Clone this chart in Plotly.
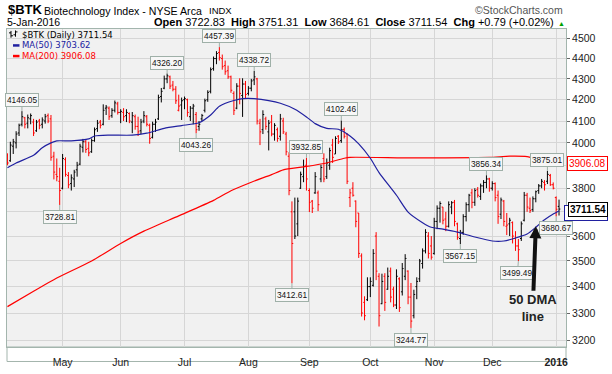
import math
import pandas as pd
import plotly.graph_objects as go

# ---------------- data ----------------
START, END = "2015-04-06", "2016-01-05"
HOLIDAYS = ["2015-05-25", "2015-07-03", "2015-09-07", "2015-11-26", "2015-12-25", "2016-01-01"]

opens = [
    3945, 3920, 3985, 4000, 4045, 4085, 4115, 4090, 4110, 4095, 4055, 4100, 4085, 4100, 4125, 4110, 3940, 3860, 3830,
    3800, 3925, 3855, 3820, 3840, 3880, 3905, 3980, 4005, 3975, 3960, 4010, 4065, 4095, 4085, 4160, 4160, 4125, 4150, 4180,
    4140, 4140, 4125, 4135, 4095, 4120, 4075, 4055, 4100, 4120, 4080, 4025, 4085, 4110, 4215, 4255, 4300, 4310, 4270, 4250, 4150, 4175,
    4200, 4200, 4120, 4160, 4130, 4075, 4110, 4150, 4200, 4240, 4350, 4400, 4430, 4400, 4365, 4340, 4310, 4230, 4160, 4265, 4220, 4275,
    4230, 4255, 4295, 4300, 4090, 4060, 4110, 4050, 4095, 4040, 4060, 4030, 4100, 4040, 3940, 3700, 3700, 3650, 3800, 3850, 3900,
    3790, 3745, 3780, 3780, 3840, 3930, 3850, 3900, 3990, 3950, 4030, 4010, 4060, 4040, 3760, 3800, 3745, 3695, 3520, 3340, 3350,
    3400, 3405, 3600, 3440, 3335, 3440, 3390, 3460, 3390, 3330, 3430, 3380, 3440, 3460, 3360, 3290, 3400, 3430, 3490, 3540, 3600, 3560,
    3530, 3660, 3715, 3720, 3670, 3640, 3720, 3740, 3650, 3590, 3615, 3680, 3730, 3780, 3740, 3795, 3765, 3810, 3825, 3840,
    3800, 3820, 3770, 3690, 3745, 3640, 3650, 3655, 3590, 3560, 3590, 3665, 3770, 3715, 3710, 3755, 3790, 3810, 3825, 3830, 3855, 3815,
    3760, 3722.83,
]
highs = [
    3953, 4005, 4018, 4053, 4088, 4146.05, 4119, 4130, 4135, 4110, 4105, 4110, 4117, 4133, 4135, 4128, 3960, 3930, 3889,
    3950, 3935, 3870, 3860, 3880, 3915, 3996, 4018, 4015, 4005, 4020, 4070, 4105, 4105, 4178, 4175, 4168, 4160, 4196, 4190,
    4155, 4160, 4155, 4140, 4142, 4130, 4120, 4110, 4146, 4128, 4088, 4097, 4110, 4224, 4256, 4316, 4326.20, 4316, 4290, 4265, 4224, 4210,
    4215, 4205, 4170, 4180, 4142, 4100, 4133, 4205, 4245, 4356, 4410, 4437, 4457.39, 4420, 4390, 4365, 4316, 4240, 4279, 4303, 4303, 4290,
    4265, 4300, 4338.72, 4305, 4110, 4150, 4120, 4105, 4128, 4090, 4070, 4133, 4115, 4050, 3958, 3744, 3760, 3760, 3872, 3925, 3932.85,
    3800, 3750, 3870, 3790, 3902, 3953, 3930, 3978, 4018, 4030, 4035, 4102.46, 4070, 4044, 3797, 3826, 3748, 3695, 3530, 3363, 3436,
    3436, 3547, 3616, 3452, 3450, 3452, 3474, 3474, 3400, 3467, 3436, 3492, 3527, 3463, 3414, 3388, 3436, 3508, 3550, 3628, 3616, 3600,
    3675, 3727, 3744, 3720, 3700, 3744, 3745, 3750, 3655, 3625, 3690, 3740, 3776, 3797, 3800, 3805, 3820, 3835, 3856.34, 3845,
    3830, 3825, 3790, 3760, 3750, 3695, 3675, 3660, 3620, 3588, 3660, 3784, 3780, 3760, 3765, 3790, 3818, 3840, 3835, 3875.01, 3862, 3825,
    3765, 3751.31,
]
lows = [
    3900, 3915, 3950, 3975, 4031, 4075, 4066, 4066, 4085, 4031, 4050, 4062, 4066, 4088, 4090, 3920, 3838, 3830, 3728.81,
    3795, 3850, 3800, 3790, 3805, 3850, 3900, 3957, 3955, 3940, 3955, 4005, 4050, 4066, 4080, 4128, 4105, 4115, 4140, 4130,
    4090, 4100, 4095, 4090, 4044, 4060, 4031, 4040, 4090, 4075, 3996, 4020, 4050, 4105, 4187, 4250, 4279, 4251, 4240, 4180, 4145, 4105,
    4155, 4120, 4100, 4085, 4043.26, 4055, 4100, 4140, 4190, 4230, 4340, 4372, 4390, 4345, 4320, 4300, 4233, 4128, 4155, 4178, 4119, 4205,
    4220, 4240, 4270, 4084, 3990, 4040, 4060, 3966, 4030, 4010, 4005, 4010, 4040, 3944, 3770, 3412.61, 3588, 3600, 3797, 3826, 3790,
    3699, 3695, 3776, 3703, 3826, 3826, 3840, 3880, 3910, 3950, 3995, 4000, 4020, 3818, 3720, 3764, 3636, 3512, 3287, 3273, 3345,
    3360, 3400, 3425, 3250, 3333, 3308, 3388, 3340, 3322, 3315, 3304, 3366, 3425, 3333, 3244.77, 3280, 3352, 3418, 3470, 3530, 3510, 3505,
    3525, 3628, 3655, 3648, 3620, 3635, 3690, 3640, 3585, 3567.15, 3605, 3660, 3700, 3715, 3725, 3760, 3750, 3780, 3800, 3785,
    3790, 3744, 3650, 3670, 3640, 3604, 3600, 3570, 3540, 3499.49, 3580, 3660, 3700, 3695, 3700, 3740, 3776, 3800, 3790, 3818, 3810, 3795,
    3680.67, 3684.61,
]
closes = [
    3910, 3990, 4005, 4040, 4080, 4120, 4085, 4115, 4125, 4045, 4095, 4080, 4105, 4120, 4100, 3935, 3870, 3850, 3790,
    3930, 3860, 3815, 3845, 3870, 3900, 3985, 4005, 3970, 3955, 4010, 4060, 4090, 4080, 4150, 4165, 4120, 4150, 4185, 4140,
    4145, 4120, 4140, 4100, 4125, 4075, 4050, 4095, 4125, 4085, 4020, 4085, 4095, 4210, 4240, 4300, 4315, 4265, 4250, 4195, 4170, 4195,
    4205, 4140, 4160, 4170, 4060, 4085, 4125, 4195, 4235, 4345, 4400, 4425, 4405, 4360, 4335, 4310, 4245, 4150, 4265, 4230, 4275, 4225,
    4255, 4290, 4310, 4100, 4050, 4130, 4075, 4090, 4040, 4080, 4020, 4110, 4050, 3960, 3790, 3570, 3600, 3745, 3860, 3895, 3840,
    3740, 3715, 3850, 3730, 3890, 3840, 3910, 3965, 3935, 4020, 4005, 4060, 4030, 3830, 3780, 3770, 3660, 3530, 3300, 3290, 3400,
    3420, 3530, 3460, 3290, 3420, 3340, 3440, 3360, 3330, 3440, 3320, 3470, 3510, 3360, 3270, 3370, 3420, 3500, 3540, 3615, 3530, 3515,
    3660, 3715, 3735, 3665, 3640, 3730, 3738, 3660, 3595, 3615, 3680, 3730, 3770, 3740, 3790, 3770, 3810, 3825, 3840, 3800,
    3820, 3760, 3680, 3750, 3660, 3645, 3665, 3600, 3560, 3545, 3650, 3770, 3720, 3705, 3755, 3785, 3810, 3830, 3815, 3860, 3815, 3800,
    3710.75, 3711.54,
]

ma50_dates = ["2015-04-06", "2015-04-09", "2015-04-17", "2015-04-22", "2015-04-27", "2015-04-29", "2015-05-06",
              "2015-05-14", "2015-05-18", "2015-05-26", "2015-06-05", "2015-06-12", "2015-06-22", "2015-06-30",
              "2015-07-09", "2015-07-15", "2015-07-20", "2015-07-27", "2015-07-30", "2015-08-05", "2015-08-12",
              "2015-08-18", "2015-08-25", "2015-08-31", "2015-09-03", "2015-09-10", "2015-09-16", "2015-09-22",
              "2015-09-25", "2015-10-01", "2015-10-06", "2015-10-14", "2015-10-20", "2015-10-27", "2015-10-30",
              "2015-11-05", "2015-11-12", "2015-11-20", "2015-12-01", "2015-12-07", "2015-12-11", "2015-12-17",
              "2015-12-22", "2015-12-28", "2015-12-31", "2016-01-05"]
ma50_vals = [3889, 3910, 3944, 3978, 4000, 4009, 4009, 4018, 4031, 4035, 4035, 4044, 4066, 4079, 4092, 4128,
             4169, 4196, 4205, 4205, 4196, 4183, 4155, 4119, 4088, 4066, 4062, 4031, 3995, 3931, 3868, 3770,
             3699, 3655, 3636, 3628, 3616, 3596, 3580, 3580, 3592, 3608, 3636, 3667, 3691, 3703.62]

ma200_dates = ["2015-04-06", "2015-04-17", "2015-04-29", "2015-05-15", "2015-06-01", "2015-06-11", "2015-06-29",
               "2015-07-16", "2015-07-24", "2015-08-04", "2015-08-13", "2015-08-19", "2015-08-28", "2015-09-10",
               "2015-09-18", "2015-09-22", "2015-10-16", "2015-10-30", "2015-11-30", "2015-12-09", "2015-12-17",
               "2015-12-23", "2015-12-29", "2016-01-05"]
ma200_vals = [3324, 3382, 3433, 3500, 3570, 3620, 3683, 3748, 3789, 3826, 3859, 3880, 3893, 3910, 3931, 3935,
              3933, 3933, 3935, 3940, 3938, 3925, 3915, 3906.08]

label_dates = ["2015-04-13", "2015-04-30", "2015-06-23", "2015-07-08", "2015-07-20", "2015-08-05", "2015-08-24",
               "2015-08-31", "2015-09-17", "2015-10-21", "2015-11-13", "2015-11-27", "2015-12-14", "2015-12-29",
               "2016-01-04"]
label_vals = [4146.05, 3728.81, 4326.20, 4043.26, 4457.39, 4338.72, 3412.61, 3932.85, 4102.46, 3244.77, 3567.15,
              3856.34, 3499.49, 3875.01, 3680.67]

y_ticks = [3200, 3300, 3400, 3500, 3600, 3700, 3800, 3900, 4000, 4100, 4200, 4300, 4400, 4500]
y_hidden = [3700, 3900]  # covered by the value tags in the reference
month_names = ["Jan", "Feb", "Mar", "Apr", "May", "Jun", "Jul", "Aug", "Sep", "Oct", "Nov", "Dec"]

last_open, last_high, last_low, last_close = 3722.83, 3751.31, 3684.61, 3711.54
chg, chg_pct = 0.79, 0.02
ma50_last, ma200_last = 3703.62, 3906.08

# ---------------- styling ----------------
FONT = "Liberation Sans, Arial, sans-serif"
LEG = "DejaVu Sans, Verdana, sans-serif"
RED = "#ff0000"
BLUE = "#2020a0"
FRAME = "#a3b5ad"
GRID = "#d6d6d6"
BOX_BG = "#f7f7f7"
BOX_BORDER = "#9fb0a8"

W, H = 612, 374
ML, MR, MT, MB = 6, 46, 29, 16
PW, PH = W - ML - MR, H - MT - MB


def P(px, py):
    """pixel -> paper coordinates (for header texts / decorations)"""
    return (px - ML) / PW, (H - MB - py) / PH


dates = pd.bdate_range(START, END, freq="C", holidays=HOLIDAYS)
assert len(dates) == len(closes) == len(opens) == len(highs) == len(lows)
n = len(dates)
pos = {d.strftime("%Y-%m-%d"): i for i, d in enumerate(dates)}

up = [i for i in range(n) if i > 0 and closes[i] >= closes[i - 1]]
dn = [i for i in range(n) if not (i > 0 and closes[i] >= closes[i - 1])]

fig = go.Figure()


def add_ohlc(sel, color):
    fig.add_trace(go.Ohlc(
        x=sel, open=[opens[i] for i in sel], high=[highs[i] for i in sel],
        low=[lows[i] for i in sel], close=[closes[i] for i in sel],
        increasing=dict(line=dict(color=color, width=1)),
        decreasing=dict(line=dict(color=color, width=1)),
        tickwidth=0.45, hoverinfo="skip", showlegend=False))


add_ohlc(dn, RED)
add_ohlc(up, "#000000")

fig.add_trace(go.Scatter(x=[pos[d] for d in ma200_dates], y=ma200_vals, mode="lines",
                         line=dict(color=RED, width=1.2, shape="spline", smoothing=0.6),
                         hoverinfo="skip", showlegend=False))
fig.add_trace(go.Scatter(x=[pos[d] for d in ma50_dates], y=ma50_vals, mode="lines",
                         line=dict(color=BLUE, width=1.2, shape="spline", smoothing=0.6),
                         hoverinfo="skip", showlegend=False))

# month ticks
tickvals, ticktext = [], []
for i in range(1, n):
    if dates[i].month != dates[i - 1].month:
        tickvals.append(i)
        ticktext.append(f"<b>{dates[i].year}</b>" if dates[i].month == 1 else month_names[dates[i].month - 1])

ylo, yhi = 3.50183, 3.65796
ann = []

# price labels
for d, v in zip(label_dates, label_vals):
    i = pos[d]
    is_high = abs(v - highs[i]) < 1e-6
    ann.append(dict(x=i, y=math.log10(v), xref="x", yref="y", text=f"{v:.2f}",
                    showarrow=True, ax=-1 if v == 3499.49 else 0, ay=-11 if is_high else 12,
                    arrowhead=0, arrowwidth=1,
                    arrowcolor=BOX_BORDER, bgcolor=BOX_BG, bordercolor=BOX_BORDER, borderwidth=1,
                    borderpad=1, font=dict(family=FONT, size=8.3, color="#111")))

# right-side value tags
TAG_X, _ = P(608, 0)
ann.append(dict(xref="paper", x=TAG_X, xanchor="right", yref="y", y=math.log10(ma200_last),
                text=f"{ma200_last:.2f}", showarrow=False, bgcolor="white", bordercolor=RED, borderwidth=1,
                borderpad=1, font=dict(family=FONT, size=10, color=RED)))
ann.append(dict(xref="paper", x=TAG_X, xanchor="right", yref="y", y=math.log10(ma50_last), yshift=-2,
                text=" ", width=40, height=12, showarrow=False, bgcolor="white", bordercolor=BLUE, borderwidth=1,
                borderpad=1, font=dict(family=FONT, size=10, color=BLUE)))
ann.append(dict(xref="paper", x=TAG_X, xanchor="right", yref="y", y=math.log10(last_close),
                text=f"<b>{last_close:.2f}</b>", showarrow=False, bgcolor="white", bordercolor="#000", borderwidth=1,
                borderpad=1, font=dict(family=FONT, size=10, color="#000")))

# "50 DMA line" callout pointing to the MA(50) line
ann.append(dict(x=pos["2015-12-22"], y=math.log10(3640), xref="x", yref="y", text="<b>50 DMA<br>line</b>",
                showarrow=True, ax=-3, ay=82, arrowhead=2, arrowwidth=4, arrowsize=0.6, arrowcolor="#111",
                standoff=0, font=dict(family=FONT, size=13, color="#222")))

# header texts
x, y = P(5, 9)
ann.append(dict(xref="paper", yref="paper", x=x, y=y, xanchor="left", yanchor="middle", showarrow=False,
                text="<b>$BTK</b>", font=dict(family=FONT, size=13, color="#000")))
x, y = P(41, 10)
ann.append(dict(xref="paper", yref="paper", x=x, y=y, xanchor="left", yanchor="middle", showarrow=False,
                text="Biotechnology Index - NYSE Arca", font=dict(family=FONT, size=10.6, color="#000")))
x, y = P(206, 10)
ann.append(dict(xref="paper", yref="paper", x=x, y=y, xanchor="left", yanchor="middle", showarrow=False,
                text="INDX", font=dict(family=FONT, size=9.5, color="#000")))
x, y = P(565, 9)
ann.append(dict(xref="paper", yref="paper", x=x, y=y, xanchor="right", yanchor="middle", showarrow=False,
                text="\u00a9StockCharts.com", font=dict(family=FONT, size=10.5, color="#555")))
x, y = P(4, 22)
ann.append(dict(xref="paper", yref="paper", x=x, y=y, xanchor="left", yanchor="middle", showarrow=False,
                text=dates[-1].strftime("%-d-%b-%Y"), font=dict(family=FONT, size=10.5, color="#000")))
x, y = P(556, 22)
ann.append(dict(xref="paper", yref="paper", x=x, y=y, xanchor="right", yanchor="middle", showarrow=False,
                text=(f"<b>Open</b> {last_open:.2f}  <b>High</b> {last_high:.2f}  <b>Low</b> {last_low:.2f}  "
                      f"<b>Close</b> {last_close:.2f}  <b>Chg</b> +{chg:.2f} (+{chg_pct:.2f}%)"),
                font=dict(family=FONT, size=11, color="#000")))
x, y = P(561, 23)
ann.append(dict(xref="paper", yref="paper", x=x, y=y, xanchor="center", yanchor="middle", showarrow=False,
                text="\u25b2", font=dict(family=FONT, size=7, color="#00a000")))

# legend texts inside the plot
for txt, py, col in [(f"$BTK (Daily) {last_close:.2f}", 35, "#000"),
                     (f"MA(50) {ma50_last:.2f}", 46, BLUE),
                     (f"MA(200) {ma200_last:.2f}", 57, RED)]:
    x, y = P(19, py)
    ann.append(dict(xref="paper", yref="paper", x=x, y=y, xanchor="left", yanchor="middle", showarrow=False,
                    text=txt, font=dict(family=LEG, size=8.5, color=col)))

shapes = []
for py, col in [(46, BLUE), (57, RED)]:
    x0, y0 = P(12, py)
    x1, _ = P(18.5, py)
    shapes.append(dict(type="line", xref="paper", yref="paper", x0=x0, x1=x1, y0=y0, y1=y0,
                       line=dict(color=col, width=2.5)))
# small ohlc glyph in legend
for bx, top, bot, lt, rt in [(10, 31, 38, 33, 36), (14.5, 30.5, 37, 35, 32)]:
    a, b = P(bx, top)
    _, c = P(bx, bot)
    shapes.append(dict(type="line", xref="paper", yref="paper", x0=a, x1=a, y0=b, y1=c, line=dict(color="#000", width=1)))
    l0, ly = P(bx - 2, lt)
    shapes.append(dict(type="line", xref="paper", yref="paper", x0=l0, x1=a, y0=ly, y1=ly, line=dict(color="#000", width=1)))
    r1, ry = P(bx + 2, rt)
    shapes.append(dict(type="line", xref="paper", yref="paper", x0=a, x1=r1, y0=ry, y1=ry, line=dict(color="#000", width=1)))
# frame around the date axis strip
x0, y0 = P(6, 358)
x1, y1 = P(566, 373)
shapes.append(dict(type="rect", xref="paper", yref="paper", x0=x0, x1=x1, y0=y0, y1=y1,
                   line=dict(color=FRAME, width=1), layer="below"))

fig.update_layout(
    width=W, height=H, margin=dict(l=ML, r=MR, t=MT, b=MB, pad=0),
    paper_bgcolor="white", plot_bgcolor="#f1f1f1",
    font=dict(family=FONT, size=10.5, color="#222"),
    xaxis=dict(type="linear", range=[-0.15, n + 1.4], tickvals=tickvals, ticktext=ticktext,
               showgrid=True, gridcolor=GRID, gridwidth=1, zeroline=False, showline=True, mirror=True,
               linecolor=FRAME, ticks="", ticklabelstandoff=5, rangeslider=dict(visible=False),
               tickfont=dict(size=10.5, color="#222")),
    yaxis=dict(type="log", range=[ylo, yhi], side="right", tickvals=y_ticks,
               ticktext=["" if v in y_hidden else str(v) for v in y_ticks],
               showgrid=True, gridcolor=GRID, gridwidth=1, zeroline=False, showline=True, mirror=True,
               linecolor=FRAME, ticks="outside", ticklen=3, tickcolor="#666", tickfont=dict(size=10.5, color="#222")),
    annotations=ann, shapes=shapes, showlegend=False,
)

fig.write_html("out.html", config={"displayModeBar": False},
               post_script="document.body.style.margin='0px';document.body.style.overflow='hidden';")
